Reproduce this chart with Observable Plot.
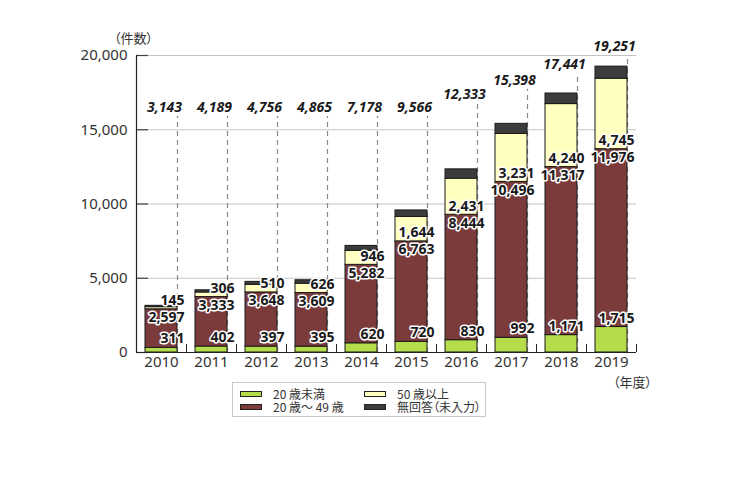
<!DOCTYPE html>
<html>
<head>
<meta charset="utf-8">
<script src="https://cdn.jsdelivr.net/npm/d3@7"></script>
<script src="https://cdn.jsdelivr.net/npm/@observablehq/plot@0.6"></script>
<style>
  html, body { margin: 0; padding: 0; background: #fff; }
  #wrap { position: relative; width: 751px; height: 482px; overflow: hidden;
          font-family: "Noto Sans", "Noto Sans CJK JP", sans-serif; color: #333; }
  #chart { position: absolute; left: 0; top: 0; }
  .note { position: absolute; font-family: "Noto Sans CJK JP", sans-serif; font-size: 13px;
          color: #333; font-feature-settings: "palt"; white-space: nowrap; line-height: 1; }
  #legend { position: absolute; left: 232px; top: 382px; width: 254px; height: 35px;
            border: 1px solid #c8c8c8; box-sizing: border-box; }
  .li { position: absolute; font-family: "Noto Sans CJK JP", sans-serif; font-size: 12px; color: #333;
        white-space: nowrap; line-height: 12px; height: 12px; font-feature-settings: "palt"; }
  .sw { position: absolute; width: 22px; height: 6px; border: 1px solid #222; box-sizing: border-box; }
</style>
</head>
<body>
<div id="wrap">
  <div id="chart"></div>
  <div class="note" style="left:114px; top:31px;">（件数）</div>
  <div class="note" style="left:613px; top:375px;">（年度）</div>
  <div id="legend"></div>
</div>
<script>
// ---- data ----
const years = [2010, 2011, 2012, 2013, 2014, 2015, 2016, 2017, 2018, 2019];
const under20   = [311, 402, 397, 395, 620, 720, 830, 992, 1171, 1715];
const age20to49 = [2597, 3333, 3648, 3609, 5282, 6763, 8444, 10496, 11317, 11976];
const over50    = [145, 306, 510, 626, 946, 1644, 2431, 3231, 4240, 4745];
const noAnswer  = [90, 148, 201, 235, 330, 439, 628, 679, 713, 815];
const totals    = [3143, 4189, 4756, 4865, 7178, 9566, 12333, 15398, 17441, 19251];
const seriesNames = ["20 歳未満", "20 歳～ 49 歳", "50 歳以上", "無回答（未入力）"];
const yTicks = [0, 5000, 10000, 15000, 20000];

// ---- layout / style (not data) ----
const seriesColors = ["#b5dc4a", "#7b3b3b", "#ffffc0", "#3c3c3c"];
const totalLabelLevel = [16500, 16500, 16500, 16500, 16500, 16500, 17370, 18320, 19390, 20600];

const seriesValues = [under20, age20to49, over50, noAnswer];
const rows = [];
seriesNames.forEach((s, si) => years.forEach((y, i) => rows.push({year: y, series: s, value: seriesValues[si][i]})));
const yearRows = years.map((y, i) => ({
  year: y, u20: under20[i], mid: age20to49[i], o50: over50[i], total: totals[i], level: totalLabelLevel[i]
}));
const fmt = d3.format(",");
const numFont = "'Noto Sans', 'Noto Sans CJK JP', sans-serif";

const W = 751, H = 482, ML = 136, MR = 115, MT = 55, MB = 130;
const innerW = W - ML - MR;

const chart = Plot.plot({
  width: W, height: H,
  marginLeft: ML, marginRight: MR, marginTop: MT, marginBottom: MB,
  style: {fontFamily: numFont, fontSize: "15px", color: "#333", background: "transparent"},
  x: {type: "band", domain: years, paddingInner: 0.36, paddingOuter: 0.18, label: null},
  y: {domain: [0, 20000], label: null},
  color: {domain: seriesNames, range: seriesColors},
  marks: [
    Plot.ruleY(yTicks.filter(d => d > 0), {stroke: "#c4c4c4", strokeWidth: 1}),
    Plot.ruleY(yTicks, {stroke: "#444", strokeWidth: 1.2, insetRight: innerW - 12}),
    Plot.ruleX(yearRows, {x: "year", y1: 0, y2: d => d.level - 600, dx: 16,
      stroke: "#8a8a8a", strokeWidth: 1.2, strokeDasharray: "5,4"}),
    Plot.barY(rows, {x: "year", y: "value", fill: "series", z: "series", order: seriesNames,
      stroke: "#1a1a1a", strokeWidth: 1}),
    Plot.ruleY([0], {stroke: "#222", strokeWidth: 1.2}),
    Plot.frame({anchor: "left", stroke: "#222", strokeWidth: 1.2}),
    Plot.ruleX(years, {x: d => d, dx: 25, y1: 0, y2: 540, stroke: "#222", strokeWidth: 1}),
    Plot.axisX({tickSize: 0, tickPadding: 4, fontSize: 15, tickFormat: d => String(d), label: null, fill: "#333"}),
    Plot.axisY({ticks: yTicks, tickSize: 0, tickPadding: 9, fontSize: 15, tickFormat: fmt, label: null, fill: "#333"}),
    // segment labels
    Plot.text(yearRows, {x: "year", y: "u20", text: d => fmt(d.u20), dx: 23, dy: -9,
      textAnchor: "end", lineAnchor: "middle", fontWeight: "bold", fontSize: 14, fontFamily: numFont,
      fill: "#1a1a1a", stroke: "white", strokeWidth: 3}),
    Plot.text(yearRows, {x: "year", y: d => d.u20 + d.mid, text: d => fmt(d.mid), dx: 23, dy: 8.5,
      textAnchor: "end", lineAnchor: "middle", fontWeight: "bold", fontSize: 14, fontFamily: numFont,
      fill: "#1a1a1a", stroke: "white", strokeWidth: 3}),
    Plot.text(yearRows, {x: "year", y: d => d.u20 + d.mid, text: d => fmt(d.o50), dx: 23, dy: -8.5,
      textAnchor: "end", lineAnchor: "middle", fontWeight: "bold", fontSize: 14, fontFamily: numFont,
      fill: "#1a1a1a", stroke: "white", strokeWidth: 3}),
    // totals
    Plot.text(yearRows, {x: "year", y: "level", text: d => fmt(d.total), dx: 3,
      lineAnchor: "middle", fontWeight: "bold", fontStyle: "italic", fontSize: 14, fontFamily: numFont,
      fill: "#1a1a1a"})
  ]
});
document.getElementById("chart").appendChild(chart);

// legend (HTML)
const legend = document.getElementById("legend");
const legendPos = [[7, 5], [7, 18], [131, 5], [131, 18]];
seriesNames.forEach((s, i) => {
  const [lx, ly] = legendPos[i];
  const sw = document.createElement("div");
  sw.className = "sw";
  sw.style.left = lx + "px"; sw.style.top = (ly + 3) + "px";
  sw.style.background = seriesColors[i];
  legend.appendChild(sw);
  const t = document.createElement("div");
  t.className = "li";
  t.style.left = (lx + 33) + "px"; t.style.top = ly + "px";
  t.textContent = s;
  legend.appendChild(t);
});
</script>
</body>
</html>
